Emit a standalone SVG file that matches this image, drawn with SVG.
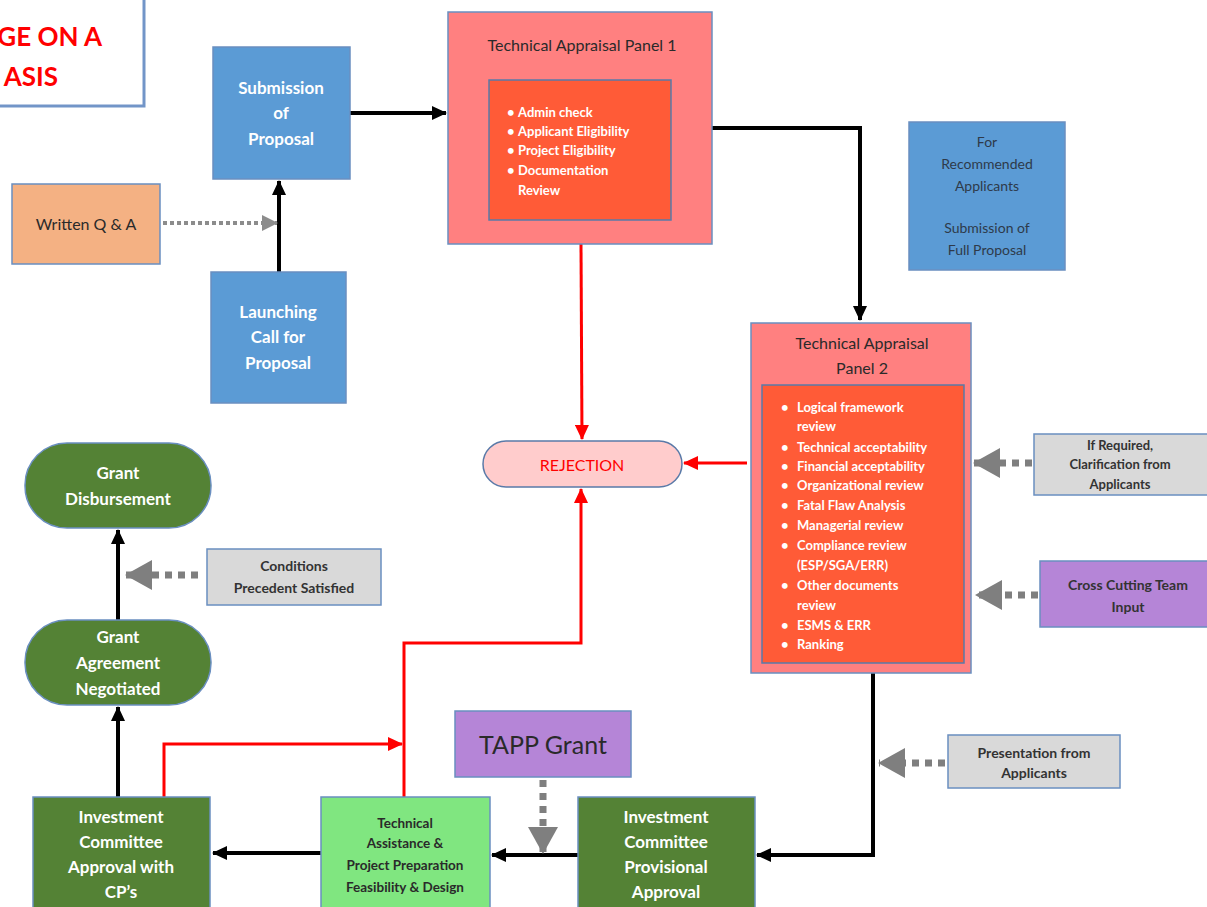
<svg xmlns="http://www.w3.org/2000/svg" width="1207" height="907" viewBox="0 0 1207 907">
<style>
text{font-family:Lato,"Liberation Sans",sans-serif;}
.box{stroke:#6a8fc0;stroke-width:1.5;}
.blue{fill:#5b9bd5;}
.green{fill:#548235;}
.gray{fill:#d9d9d9;}
.purple{fill:#b585d7;}
.pink{fill:#ff8080;}
.inner{fill:#ff5b37;stroke:#5a7aa8;stroke-width:1.5;}
.wt{fill:#ffffff;font-weight:bold;font-size:17px;text-anchor:middle;}
.dt{fill:#333333;font-size:14px;text-anchor:middle;}
.ttl{fill:#2a2a2a;font-size:16px;text-anchor:middle;}
.bl{fill:#ffffff;font-size:13px;font-weight:bold;}
.blk{stroke:#000;stroke-width:4;fill:none;}
.red{stroke:#ff0000;stroke-width:3;fill:none;}
.dot{stroke:#7f7f7f;stroke-width:7;stroke-dasharray:7 6;fill:none;}
.dots{stroke:#8c8c8c;stroke-width:4;stroke-dasharray:4 3;fill:none;}
</style>
<defs>
<marker id="ab" markerUnits="userSpaceOnUse" markerWidth="16" markerHeight="16" refX="14" refY="8" orient="auto"><path d="M0,1 L15,8 L0,15 Z" fill="#000"/></marker>
<marker id="ar" markerUnits="userSpaceOnUse" markerWidth="16" markerHeight="14" refX="14" refY="7" orient="auto"><path d="M0,0 L15,7 L0,14 Z" fill="#ff0000"/></marker>
<marker id="ag" markerUnits="userSpaceOnUse" markerWidth="28" markerHeight="30" refX="26" refY="15" orient="auto"><path d="M0,0 L27,15 L0,30 Z" fill="#7f7f7f"/></marker>
<marker id="ags" markerUnits="userSpaceOnUse" markerWidth="16" markerHeight="18" refX="15" refY="9" orient="auto"><path d="M0,1 L16,9 L0,17 Z" fill="#8c8c8c"/></marker>
</defs>

<g id="title">
<rect x="-10" y="-10" width="154" height="116" fill="#ffffff" stroke="#7295c8" stroke-width="3"/>
<text x="102" y="46" fill="#ff0000" font-size="26" font-weight="bold" text-anchor="end">GE ON A</text>
<text x="58" y="86" fill="#ff0000" font-size="26" font-weight="bold" text-anchor="end">ASIS</text>
</g>

<g id="connectors">
<path class="blk" d="M279,272 L279,181" marker-end="url(#ab)"/>
<path class="dots" d="M163,223 L277,223" marker-end="url(#ags)"/>
<path class="blk" d="M350,113 L446,113" marker-end="url(#ab)"/>
<path class="blk" d="M712,128 L860,128 L860,320" marker-end="url(#ab)"/>
<path class="red" d="M581,244 L582,439" marker-end="url(#ar)"/>
<path class="red" d="M747,463 L684,463" marker-end="url(#ar)"/>
<path class="red" d="M404,797 L404,643 L581,643 L581,489" marker-end="url(#ar)"/>
<path class="red" d="M164,797 L164,744 L402,744" marker-end="url(#ar)"/>
<path class="blk" d="M118,620 L118,530" marker-end="url(#ab)"/>
<path class="blk" d="M118,797 L118,707" marker-end="url(#ab)"/>
<path class="blk" d="M321,853 L213,853" marker-end="url(#ab)"/>
<path class="blk" d="M578,855 L492,855" marker-end="url(#ab)"/>
<path class="blk" d="M873,673 L873,855 L757,855" marker-end="url(#ab)"/>
<path class="dot" d="M1032,463 L974,463" marker-end="url(#ag)"/>
<path class="dot" d="M1038,595 L976,595" marker-end="url(#ag)"/>
<path class="dot" d="M945,763 L879,763" marker-end="url(#ag)"/>
<path class="dot" d="M198,575 L126,575" marker-end="url(#ag)"/>
<path class="dot" d="M543,780 L543,853" marker-end="url(#ag)"/>
</g>

<g id="submission">
<rect class="box blue" x="213" y="47" width="137" height="132"/>
<text class="wt" x="281" y="94">Submission</text>
<text class="wt" x="281" y="119">of</text>
<text class="wt" x="281" y="145">Proposal</text>
</g>

<g id="written-qa">
<rect class="box" fill="#f4b183" x="12" y="184" width="148" height="80"/>
<text class="ttl" x="86" y="230">Written Q &amp; A</text>
</g>

<g id="launching">
<rect class="box blue" x="211" y="272" width="135" height="131"/>
<text class="wt" x="278" y="318">Launching</text>
<text class="wt" x="278" y="343">Call for</text>
<text class="wt" x="278" y="369">Proposal</text>
</g>

<g id="tap1">
<rect class="box pink" x="448" y="12" width="264" height="232"/>
<text class="ttl" x="582" y="51">Technical Appraisal Panel 1</text>
<rect class="inner" x="489" y="80" width="182" height="140"/>
<g class="bl">
<text x="507" y="117">•</text><text x="518" y="117">Admin check</text>
<text x="507" y="136">•</text><text x="518" y="136">Applicant Eligibility</text>
<text x="507" y="155">•</text><text x="518" y="155">Project Eligibility</text>
<text x="507" y="175">•</text><text x="518" y="175">Documentation</text>
<text x="518" y="195">Review</text>
</g>
</g>

<g id="recommended">
<rect class="box blue" x="909" y="122" width="156" height="148"/>
<g class="dt" style="fill:#2e3a4a">
<text x="987" y="147">For</text>
<text x="987" y="169">Recommended</text>
<text x="987" y="191">Applicants</text>
<text x="987" y="233">Submission of</text>
<text x="987" y="255">Full Proposal</text>
</g>
</g>

<g id="tap2">
<rect class="box pink" x="751" y="323" width="220" height="350"/>
<text class="ttl" x="862" y="349">Technical Appraisal</text>
<text class="ttl" x="862" y="374">Panel 2</text>
<rect class="inner" x="762" y="385" width="202" height="278"/>
<g class="bl">
<text x="781" y="412">•</text><text x="797" y="412">Logical framework</text>
<text x="797" y="431">review</text>
<text x="781" y="452">•</text><text x="797" y="452">Technical acceptability</text>
<text x="781" y="471">•</text><text x="797" y="471">Financial acceptability</text>
<text x="781" y="490">•</text><text x="797" y="490">Organizational review</text>
<text x="781" y="510">•</text><text x="797" y="510">Fatal Flaw Analysis</text>
<text x="781" y="530">•</text><text x="797" y="530">Managerial review</text>
<text x="781" y="550">•</text><text x="797" y="550">Compliance review</text>
<text x="797" y="570">(ESP/SGA/ERR)</text>
<text x="781" y="590">•</text><text x="797" y="590">Other documents</text>
<text x="797" y="610">review</text>
<text x="781" y="630">•</text><text x="797" y="630">ESMS &amp; ERR</text>
<text x="781" y="649">•</text><text x="797" y="649">Ranking</text>
</g>
</g>

<g id="rejection">
<rect x="483" y="441" width="199" height="46" rx="23" fill="#ffcccc" stroke="#5a7aa8" stroke-width="1.5"/>
<text x="582" y="471" fill="#ff0000" font-size="16" text-anchor="middle">REJECTION</text>
</g>

<g id="if-required">
<rect class="box gray" x="1034" y="434" width="180" height="61"/>
<g class="dt" style="font-size:13px;font-weight:bold">
<text x="1120" y="450">If Required,</text>
<text x="1120" y="469">Clarification from</text>
<text x="1120" y="489">Applicants</text>
</g>
</g>

<g id="cross-cutting">
<rect class="box purple" x="1040" y="561" width="175" height="66"/>
<g class="dt" style="font-weight:bold">
<text x="1128" y="590">Cross Cutting Team</text>
<text x="1128" y="612">Input</text>
</g>
</g>

<g id="grant-disbursement">
<rect x="25" y="443" width="186" height="85" rx="42" class="green" stroke="#6a8fc0" stroke-width="1.5"/>
<text class="wt" x="118" y="479">Grant</text>
<text class="wt" x="118" y="505">Disbursement</text>
</g>

<g id="conditions">
<rect class="box gray" x="207" y="549" width="174" height="56"/>
<g class="dt" style="font-weight:bold">
<text x="294" y="571">Conditions</text>
<text x="294" y="593">Precedent Satisfied</text>
</g>
</g>

<g id="grant-agreement">
<rect x="25" y="620" width="186" height="85" rx="42" class="green" stroke="#6a8fc0" stroke-width="1.5"/>
<text class="wt" x="118" y="643">Grant</text>
<text class="wt" x="118" y="669">Agreement</text>
<text class="wt" x="118" y="695">Negotiated</text>
</g>

<g id="ic-approval">
<rect class="box green" x="33" y="797" width="177" height="120"/>
<text class="wt" x="121" y="823">Investment</text>
<text class="wt" x="121" y="848">Committee</text>
<text class="wt" x="121" y="873">Approval with</text>
<text class="wt" x="121" y="898">CP’s</text>
</g>

<g id="tapp-assist">
<rect class="box" fill="#80e680" x="321" y="797" width="169" height="120"/>
<g class="dt" style="font-size:13.5px;font-weight:bold;fill:#2a2a2a">
<text x="405" y="828">Technical</text>
<text x="405" y="848">Assistance &amp;</text>
<text x="405" y="870">Project Preparation</text>
<text x="405" y="892">Feasibility &amp; Design</text>
</g>
</g>

<g id="tapp-grant">
<rect class="box purple" x="455" y="711" width="176" height="66"/>
<text x="543" y="754" fill="#2a2a2a" font-size="25" text-anchor="middle">TAPP Grant</text>
</g>

<g id="ic-provisional">
<rect class="box green" x="578" y="797" width="177" height="120"/>
<text class="wt" x="666" y="823">Investment</text>
<text class="wt" x="666" y="848">Committee</text>
<text class="wt" x="666" y="873">Provisional</text>
<text class="wt" x="666" y="898">Approval</text>
</g>

<g id="presentation">
<rect class="box gray" x="948" y="735" width="172" height="53"/>
<g class="dt" style="font-weight:bold">
<text x="1034" y="758">Presentation from</text>
<text x="1034" y="778">Applicants</text>
</g>
</g>
</svg>
